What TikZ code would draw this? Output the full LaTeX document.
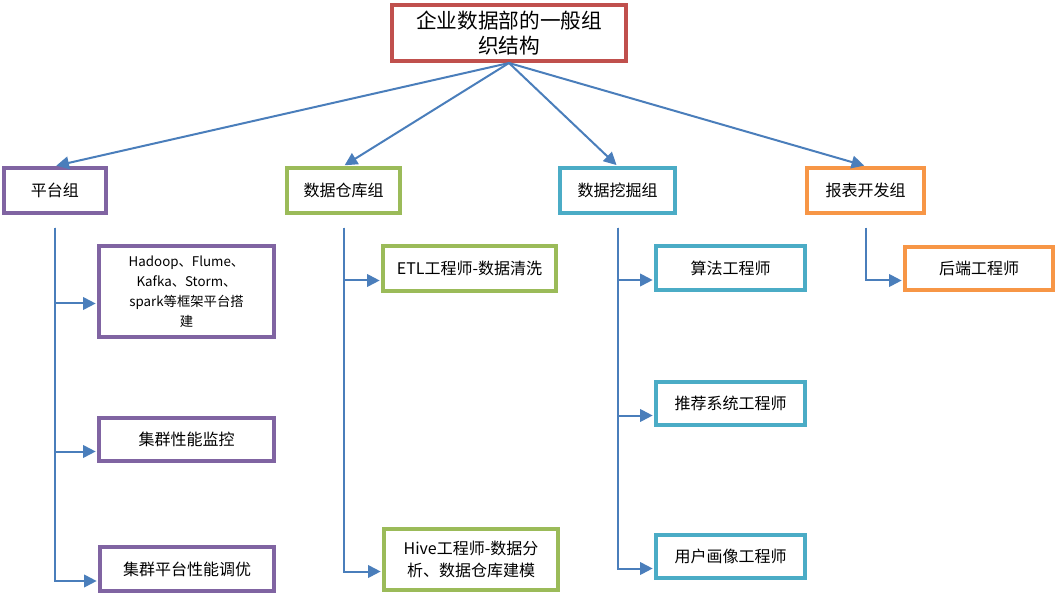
\documentclass[tikz,border=0pt]{standalone}
\usepackage{fontspec}
\setmainfont{Noto Sans CJK SC}
\usepackage{tikz}
\usetikzlibrary{arrows.meta}
\definecolor{og-red}{HTML}{C0504D}
\definecolor{og-purple}{HTML}{8064A2}
\definecolor{og-green}{HTML}{9BBB59}
\definecolor{og-teal}{HTML}{4BACC6}
\definecolor{og-orange}{HTML}{F79646}
\definecolor{og-link}{HTML}{4A7EBB}

\begin{document}
\begin{tikzpicture}[
    x=0.75pt, y=-0.75pt,
    >={Triangle[length=9.5pt, width=9.5pt]},
    % boxes of the org chart
    cell/.style={draw, line width=3pt, fill=white, align=center, inner sep=2pt,
      font=\fontsize{12}{16.5}\selectfont},
    sz/.style 2 args={minimum width=#1*0.75pt, minimum height=#2*0.75pt},
    flow/.style={->, line width=1.5pt, og-link, shorten >=1pt}
  ]
  \useasboundingbox (0,0) rectangle (1057,595);

  % =========================================================================
  % HEAD
  % =========================================================================
  \node[cell, draw=og-red, sz={234}{56}, font=\fontsize{15.5}{18.75}\selectfont] (top) at (509,33) {企业数据部的一般组\\织结构};

  % =========================================================================
  % GROUPS
  % =========================================================================
  \node[cell, draw=og-purple, sz={102}{45}] (g1) at (55,190.5) {平台组};
  \node[cell, draw=og-green, sz={113}{45}] (g2) at (343.5,190.5) {数据仓库组};
  \node[cell, draw=og-teal, sz={115}{45}] (g3) at (617.5,190.5) {数据挖掘组};
  \node[cell, draw=og-orange, sz={117}{45}] (g4) at (865.5,190.5) {报表开发组};

  \foreach \g in {g1,g2,g3,g4}
    \draw[flow] (top.south) -- (\g.north);

  % =========================================================================
  % MEMBERS
  % =========================================================================
  \node[cell, draw=og-purple, sz={175}{91}, font=\fontsize{10}{15}\selectfont] (p1) at (186.5,291.5) {Hadoop、Flume、\\Kafka、Storm、\\spark等框架平台搭\\建};
  \node[cell, draw=og-purple, sz={175}{43}] (p2) at (186.5,439.5) {集群性能监控};
  \node[cell, draw=og-purple, sz={174}{44}] (p3) at (187,569) {集群平台性能调优};

  \node[cell, draw=og-green, sz={173}{45}] (w1) at (469.5,268.5) {ETL工程师-数据清洗};
  \node[cell, draw=og-green, sz={174}{61}] (w2) at (471,559.5) {Hive工程师-数据分\\析、数据仓库建模};

  \node[cell, draw=og-teal, sz={149}{44}] (m1) at (730.5,268) {算法工程师};
  \node[cell, draw=og-teal, sz={149}{43}] (m2) at (730.5,403.5) {推荐系统工程师};
  \node[cell, draw=og-teal, sz={149}{43}] (m3) at (730.5,556.5) {用户画像工程师};

  \node[cell, draw=og-orange, sz={148}{43}] (r1) at (979,268.5) {后端工程师};

  % elbow links
  \foreach \g in {g1,g2,g3,g4}
    \coordinate (\g t) at ([yshift=-9.5pt]\g.south);
  \foreach \g/\c in {g1/p1, g1/p2, g1/p3, g2/w1, g2/w2, g3/m1, g3/m2, g3/m3, g4/r1}
    \draw[flow] (\g t) |- ([yshift=-9pt]\c.west);

\end{tikzpicture}
\end{document}
